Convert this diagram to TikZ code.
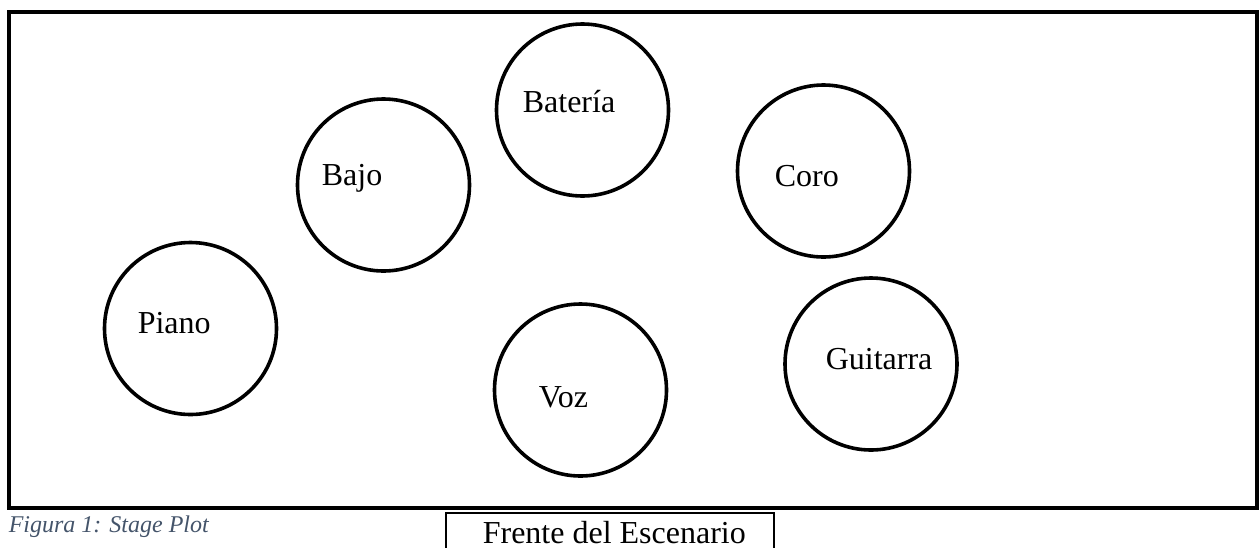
\documentclass[tikz,border=0pt]{standalone}
\usepackage{fontspec}
\setmainfont{Liberation Serif}
\usepackage{tikz}
\usetikzlibrary{positioning}
\definecolor{captiongray}{HTML}{44546A}

\begin{document}
\begin{tikzpicture}[x=0.5pt,y=-0.5pt,thick]
\tikzstyle{puesto}=[circle,draw,line width=1.8pt,minimum size=86pt,inner sep=0pt]
\tikzstyle{nombre}=[anchor=base west,inner sep=0pt,font=\fontsize{16}{19}\selectfont]
\useasboundingbox (0,0) rectangle (1259,547);
% escenario
\draw[line width=2pt] (9,12) rectangle (1257,508);
% puestos
\node[puesto]	(bateria)	at (582.5,110)	{};
\node[puesto]	(bajo)		at (383.5,185)	{};
\node[puesto]	(coro)		at (823.5,171)	{};
\node[puesto]	(piano)		at (190.5,328.5)	{};
\node[puesto]	(voz)		at (580.5,390)	{};
\node[puesto]	(guitarra)	at (871,364)	{};
\node[nombre]	(tBateria)	at (522,112)	{Batería};
\node[nombre]	(tBajo)		at (321,185)	{Bajo};
\node[nombre]	(tCoro)		at (774,186)	{Coro};
\node[nombre]	(tPiano)	at (137,333)	{Piano};
\node[nombre]	(tVoz)		at (538,407)	{Voz};
\node[nombre]	(tGuitarra)	at (825,369)	{Guitarra};
% frente
\draw[line width=0.8pt] (446,560) -- (446,513) -- (774,513) -- (774,560);
\node[nombre]	(frente)	at (482,543)	{Frente del Escenario};
\node[nombre,font=\fontsize{12}{14}\selectfont\itshape,text=captiongray]	(figura)	at (8,532)	{Figura 1: Stage Plot};
\end{tikzpicture}
\end{document}
